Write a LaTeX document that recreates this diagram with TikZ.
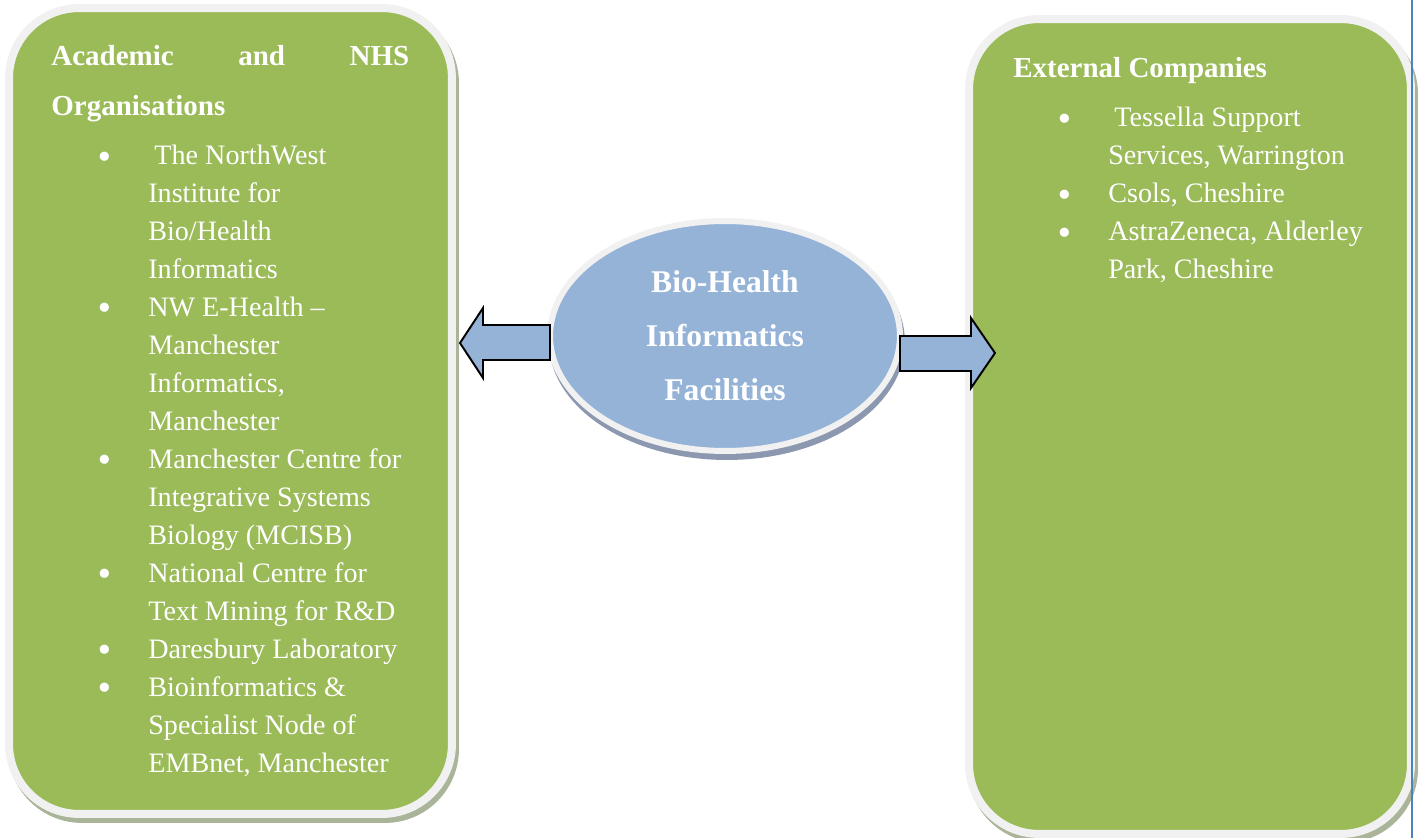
\documentclass[tikz,border=0pt]{standalone}
\usepackage{fontspec}
\setmainfont{Liberation Serif}
\newfontfamily\dotfont{DejaVu Sans}
\usetikzlibrary{shapes.geometric}

\definecolor{boxgreen}{RGB}{155,187,89}
\definecolor{rimgray}{RGB}{241,241,241}
\definecolor{shadegreen}{RGB}{170,180,152}
\definecolor{hubblue}{RGB}{149,179,215}
\definecolor{shadeblue}{RGB}{140,152,175}
\definecolor{marginblue}{RGB}{79,129,189}

\newcommand{\bodyfont}{\fontsize{16}{21.6}\selectfont}
\newcommand{\headfont}{\fontsize{16.5}{27.9}\selectfont\bfseries}
\newcommand{\hubfont}{\fontsize{18}{30.7}\selectfont\bfseries}
\newcommand{\dotmark}{\raisebox{-1.8pt}{\dotfont\fontsize{18}{0}\selectfont\textbullet}}

\begin{document}
\begin{tikzpicture}[x=0.02cm,y=-0.02cm,
  panel/.style={draw=rimgray,fill=boxgreen,line width=0.16cm,rounded corners=1.4cm},
  panelshade/.style={panel,draw=shadegreen,fill=shadegreen},
  hubshape/.style={ellipse,draw=rimgray,fill=hubblue,line width=0.12cm,minimum width=7cm,minimum height=4.6cm,text=white,align=center,font=\hubfont},
  blockarrow/.style={draw=black,fill=hubblue,line width=1.1pt,line join=miter},
  heading/.style={anchor=base west,text=white,font=\headfont},
  listtext/.style={anchor=base west,text=white,font=\bodyfont}]
\tikzstyle{every node}+=[inner sep=0pt]
\useasboundingbox (0,0) rectangle (1421,838);

% left box
\node[panelshade,minimum width=8.86cm,minimum height=16.12cm] (acadshade) at (233.5,416) {};
\node[panel,minimum width=8.86cm,minimum height=16.12cm] (acad) at (230.5,411) {};
\node[heading] (acadtitle) at (51,66) {\begin{tabular}[t]{@{}l@{}}\makebox[7.16cm][s]{Academic and NHS}\\Organisations\end{tabular}};
\node[listtext] (acadlist) at (95,165) {\begin{tabular}[t]{@{}p{1.06cm}@{}l@{}}
\dotmark & \hspace{3.5pt}The NorthWest\\
 & Institute for\\
 & Bio/Health\\
 & Informatics\\
\dotmark & NW E-Health –\\
 & Manchester\\
 & Informatics,\\
 & Manchester\\
\dotmark & Manchester Centre for\\
 & Integrative Systems\\
 & Biology (MCISB)\\
\dotmark & National Centre for\\
 & Text Mining for R\&D\\
\dotmark & Daresbury Laboratory\\
\dotmark & Bioinformatics \&\\
 & Specialist Node of\\
 & EMBnet, Manchester
\end{tabular}};

% right box
\node[panelshade,minimum width=8.84cm,minimum height=16.3cm] (extshade) at (1193,431.5) {};
\node[panel,minimum width=8.84cm,minimum height=16.3cm] (ext) at (1190,426.5) {};
\node[heading] (exttitle) at (1013,78) {External Companies};
\node[listtext] (extlist) at (1055,127) {\begin{tabular}[t]{@{}p{1.06cm}@{}l@{}}
\dotmark & \hspace{3.5pt}Tessella Support\\
 & Services, Warrington\\
\dotmark & Csols, Cheshire\\
\dotmark & AstraZeneca, Alderley\\
 & Park, Cheshire
\end{tabular}};

% centre
\node[hubshape,draw=shadeblue,fill=shadeblue] (hubshade) at (727,342) {};
\node[hubshape] (hub) at (725,336) {Bio-Health\\Informatics\\Facilities};

\coordinate (ltip) at (460,343);
\coordinate (rtip) at (995,353);
\draw[blockarrow] (ltip) -- ++(23,-35) -- ++(0,17) -- ++(67,0) -- ++(0,35) -- ++(-67,0) -- ++(0,18) -- cycle;
\draw[blockarrow] (rtip) -- ++(-24,-35) -- ++(0,18) -- ++(-71,0) -- ++(0,35) -- ++(71,0) -- ++(0,17) -- cycle;

\draw[marginblue,line width=0.03cm] (1412,0) -- (1412,838);
\end{tikzpicture}
\end{document}
